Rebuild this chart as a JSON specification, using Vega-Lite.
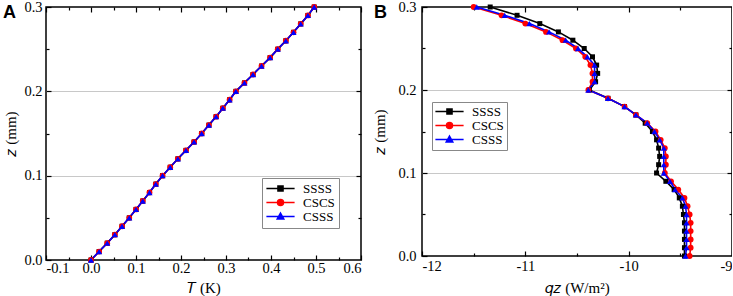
{
  "$schema": "https://vega.github.io/schema/vega-lite/v6.json",
  "background": "white",
  "padding": {"left": 2, "top": -2, "right": -2, "bottom": 1},
  "spacing": 9,
  "config": {
    "view": {"stroke": "black", "strokeWidth": 1.5},
    "font": "Liberation Serif",
    "axis": {"labelFont": "Liberation Serif", "labelFontSize": 14.5, "labelColor": "black", "titleFont": "Liberation Serif", "titleFontSize": 15, "titleFontWeight": "normal", "titleColor": "black", "domain": false, "tickColor": "black", "tickWidth": 1.2, "grid": false},
    "title": {"font": "Liberation Sans", "fontWeight": "bold", "fontSize": 18, "color": "black", "anchor": "start", "frame": "group", "baseline": "top", "offset": 4}
  },
  "resolve": {"scale": {"fill": "independent", "stroke": "independent", "shape": "independent"}, "legend": {"fill": "independent", "stroke": "independent", "shape": "independent"}},
  "datasets": {
    "A": [
      {"s":"SSSS","z":0.00,"T":0.000},{"s":"SSSS","z":0.01,"T":0.018},{"s":"SSSS","z":0.02,"T":0.036},{"s":"SSSS","z":0.03,"T":0.053},{"s":"SSSS","z":0.04,"T":0.069},{"s":"SSSS","z":0.05,"T":0.085},{"s":"SSSS","z":0.06,"T":0.100},{"s":"SSSS","z":0.07,"T":0.115},{"s":"SSSS","z":0.08,"T":0.130},{"s":"SSSS","z":0.09,"T":0.144},{"s":"SSSS","z":0.10,"T":0.159},{"s":"SSSS","z":0.11,"T":0.176},{"s":"SSSS","z":0.12,"T":0.193},{"s":"SSSS","z":0.13,"T":0.211},{"s":"SSSS","z":0.14,"T":0.229},{"s":"SSSS","z":0.15,"T":0.246},{"s":"SSSS","z":0.16,"T":0.262},{"s":"SSSS","z":0.17,"T":0.278},{"s":"SSSS","z":0.18,"T":0.293},{"s":"SSSS","z":0.19,"T":0.308},{"s":"SSSS","z":0.20,"T":0.322},{"s":"SSSS","z":0.21,"T":0.341},{"s":"SSSS","z":0.22,"T":0.360},{"s":"SSSS","z":0.23,"T":0.379},{"s":"SSSS","z":0.24,"T":0.398},{"s":"SSSS","z":0.25,"T":0.415},{"s":"SSSS","z":0.26,"T":0.433},{"s":"SSSS","z":0.27,"T":0.450},{"s":"SSSS","z":0.28,"T":0.466},{"s":"SSSS","z":0.29,"T":0.482},{"s":"SSSS","z":0.30,"T":0.496},
      {"s":"CSCS","z":0.00,"T":0.000},{"s":"CSCS","z":0.01,"T":0.018},{"s":"CSCS","z":0.02,"T":0.036},{"s":"CSCS","z":0.03,"T":0.053},{"s":"CSCS","z":0.04,"T":0.069},{"s":"CSCS","z":0.05,"T":0.085},{"s":"CSCS","z":0.06,"T":0.100},{"s":"CSCS","z":0.07,"T":0.115},{"s":"CSCS","z":0.08,"T":0.130},{"s":"CSCS","z":0.09,"T":0.144},{"s":"CSCS","z":0.10,"T":0.159},{"s":"CSCS","z":0.11,"T":0.176},{"s":"CSCS","z":0.12,"T":0.193},{"s":"CSCS","z":0.13,"T":0.211},{"s":"CSCS","z":0.14,"T":0.229},{"s":"CSCS","z":0.15,"T":0.246},{"s":"CSCS","z":0.16,"T":0.262},{"s":"CSCS","z":0.17,"T":0.278},{"s":"CSCS","z":0.18,"T":0.293},{"s":"CSCS","z":0.19,"T":0.308},{"s":"CSCS","z":0.20,"T":0.322},{"s":"CSCS","z":0.21,"T":0.341},{"s":"CSCS","z":0.22,"T":0.360},{"s":"CSCS","z":0.23,"T":0.379},{"s":"CSCS","z":0.24,"T":0.398},{"s":"CSCS","z":0.25,"T":0.415},{"s":"CSCS","z":0.26,"T":0.433},{"s":"CSCS","z":0.27,"T":0.450},{"s":"CSCS","z":0.28,"T":0.466},{"s":"CSCS","z":0.29,"T":0.482},{"s":"CSCS","z":0.30,"T":0.496},
      {"s":"CSSS","z":0.00,"T":0.000},{"s":"CSSS","z":0.01,"T":0.018},{"s":"CSSS","z":0.02,"T":0.036},{"s":"CSSS","z":0.03,"T":0.053},{"s":"CSSS","z":0.04,"T":0.069},{"s":"CSSS","z":0.05,"T":0.085},{"s":"CSSS","z":0.06,"T":0.100},{"s":"CSSS","z":0.07,"T":0.115},{"s":"CSSS","z":0.08,"T":0.130},{"s":"CSSS","z":0.09,"T":0.144},{"s":"CSSS","z":0.10,"T":0.159},{"s":"CSSS","z":0.11,"T":0.176},{"s":"CSSS","z":0.12,"T":0.193},{"s":"CSSS","z":0.13,"T":0.211},{"s":"CSSS","z":0.14,"T":0.229},{"s":"CSSS","z":0.15,"T":0.246},{"s":"CSSS","z":0.16,"T":0.262},{"s":"CSSS","z":0.17,"T":0.278},{"s":"CSSS","z":0.18,"T":0.293},{"s":"CSSS","z":0.19,"T":0.308},{"s":"CSSS","z":0.20,"T":0.322},{"s":"CSSS","z":0.21,"T":0.341},{"s":"CSSS","z":0.22,"T":0.360},{"s":"CSSS","z":0.23,"T":0.379},{"s":"CSSS","z":0.24,"T":0.398},{"s":"CSSS","z":0.25,"T":0.415},{"s":"CSSS","z":0.26,"T":0.433},{"s":"CSSS","z":0.27,"T":0.450},{"s":"CSSS","z":0.28,"T":0.466},{"s":"CSSS","z":0.29,"T":0.482},{"s":"CSSS","z":0.30,"T":0.496}
    ],
    "B": [
      {"s":"SSSS","z":0.30,"q":-11.34},{"s":"SSSS","z":0.29,"q":-11.08},{"s":"SSSS","z":0.28,"q":-10.86},{"s":"SSSS","z":0.27,"q":-10.68},{"s":"SSSS","z":0.26,"q":-10.54},{"s":"SSSS","z":0.25,"q":-10.43},{"s":"SSSS","z":0.24,"q":-10.35},{"s":"SSSS","z":0.23,"q":-10.31},{"s":"SSSS","z":0.22,"q":-10.30},{"s":"SSSS","z":0.21,"q":-10.32},{"s":"SSSS","z":0.20,"q":-10.38},{"s":"SSSS","z":0.19,"q":-10.20},{"s":"SSSS","z":0.18,"q":-10.04},{"s":"SSSS","z":0.17,"q":-9.93},{"s":"SSSS","z":0.16,"q":-9.84},{"s":"SSSS","z":0.15,"q":-9.77},{"s":"SSSS","z":0.14,"q":-9.73},{"s":"SSSS","z":0.13,"q":-9.71},{"s":"SSSS","z":0.12,"q":-9.70},{"s":"SSSS","z":0.11,"q":-9.71},{"s":"SSSS","z":0.10,"q":-9.73},{"s":"SSSS","z":0.09,"q":-9.64},{"s":"SSSS","z":0.08,"q":-9.56},{"s":"SSSS","z":0.07,"q":-9.51},{"s":"SSSS","z":0.06,"q":-9.48},{"s":"SSSS","z":0.05,"q":-9.47},{"s":"SSSS","z":0.04,"q":-9.46},{"s":"SSSS","z":0.03,"q":-9.46},{"s":"SSSS","z":0.02,"q":-9.46},{"s":"SSSS","z":0.01,"q":-9.46},{"s":"SSSS","z":0.00,"q":-9.46},
      {"s":"CSCS","z":0.30,"q":-11.50},{"s":"CSCS","z":0.29,"q":-11.23},{"s":"CSCS","z":0.28,"q":-11.00},{"s":"CSCS","z":0.27,"q":-10.80},{"s":"CSCS","z":0.26,"q":-10.64},{"s":"CSCS","z":0.25,"q":-10.51},{"s":"CSCS","z":0.24,"q":-10.42},{"s":"CSCS","z":0.23,"q":-10.37},{"s":"CSCS","z":0.22,"q":-10.35},{"s":"CSCS","z":0.21,"q":-10.35},{"s":"CSCS","z":0.20,"q":-10.39},{"s":"CSCS","z":0.19,"q":-10.20},{"s":"CSCS","z":0.18,"q":-10.04},{"s":"CSCS","z":0.17,"q":-9.93},{"s":"CSCS","z":0.16,"q":-9.82},{"s":"CSCS","z":0.15,"q":-9.74},{"s":"CSCS","z":0.14,"q":-9.69},{"s":"CSCS","z":0.13,"q":-9.65},{"s":"CSCS","z":0.12,"q":-9.64},{"s":"CSCS","z":0.11,"q":-9.64},{"s":"CSCS","z":0.10,"q":-9.65},{"s":"CSCS","z":0.09,"q":-9.59},{"s":"CSCS","z":0.08,"q":-9.52},{"s":"CSCS","z":0.07,"q":-9.46},{"s":"CSCS","z":0.06,"q":-9.43},{"s":"CSCS","z":0.05,"q":-9.41},{"s":"CSCS","z":0.04,"q":-9.40},{"s":"CSCS","z":0.03,"q":-9.40},{"s":"CSCS","z":0.02,"q":-9.40},{"s":"CSCS","z":0.01,"q":-9.40},{"s":"CSCS","z":0.00,"q":-9.41},
      {"s":"CSSS","z":0.30,"q":-11.47},{"s":"CSSS","z":0.29,"q":-11.20},{"s":"CSSS","z":0.28,"q":-10.96},{"s":"CSSS","z":0.27,"q":-10.77},{"s":"CSSS","z":0.26,"q":-10.61},{"s":"CSSS","z":0.25,"q":-10.49},{"s":"CSSS","z":0.24,"q":-10.40},{"s":"CSSS","z":0.23,"q":-10.33},{"s":"CSSS","z":0.22,"q":-10.33},{"s":"CSSS","z":0.21,"q":-10.33},{"s":"CSSS","z":0.20,"q":-10.39},{"s":"CSSS","z":0.19,"q":-10.20},{"s":"CSSS","z":0.18,"q":-10.04},{"s":"CSSS","z":0.17,"q":-9.93},{"s":"CSSS","z":0.16,"q":-9.82},{"s":"CSSS","z":0.15,"q":-9.75},{"s":"CSSS","z":0.14,"q":-9.70},{"s":"CSSS","z":0.13,"q":-9.66},{"s":"CSSS","z":0.12,"q":-9.66},{"s":"CSSS","z":0.11,"q":-9.66},{"s":"CSSS","z":0.10,"q":-9.66},{"s":"CSSS","z":0.09,"q":-9.60},{"s":"CSSS","z":0.08,"q":-9.55},{"s":"CSSS","z":0.07,"q":-9.48},{"s":"CSSS","z":0.06,"q":-9.45},{"s":"CSSS","z":0.05,"q":-9.44},{"s":"CSSS","z":0.04,"q":-9.44},{"s":"CSSS","z":0.03,"q":-9.44},{"s":"CSSS","z":0.02,"q":-9.44},{"s":"CSSS","z":0.01,"q":-9.44},{"s":"CSSS","z":0.00,"q":-9.45}
    ]
  },
  "hconcat": [
    {
      "width": 315,
      "height": 253,
      "title": {"text": "A", "dx": -43, "dy": 27},
      "data": {"name": "A"},
      "resolve": {"axis": {"x": "independent", "y": "independent"}},
      "layer": [
        {
          "transform": [{"filter": "datum.s === 'SSSS'"}],
          "mark": {"type": "line", "strokeWidth": 1.6, "color": "black"},
          "encoding": {
            "x": {"field": "T", "type": "quantitative", "scale": {"domain": [-0.1, 0.6], "nice": false, "zero": false},
              "axis": {"orient": "bottom", "title": "𝑇 (K)", "values": [-0.1, 0, 0.1, 0.2, 0.3, 0.4, 0.5, 0.6], "tickSize": -5, "labelPadding": 6, "labelExpr": "replace(format(datum.value, '.1f'), '−', '-')", "titlePadding": 6}},
            "y": {"field": "z", "type": "quantitative", "scale": {"domain": [0, 0.3], "nice": false, "zero": false},
              "axis": {"orient": "left", "title": "𝑧 (mm)", "values": [0, 0.1, 0.2, 0.3], "tickSize": -5, "labelPadding": 9, "labelExpr": "format(datum.value, '.1f')", "titlePadding": 5}},
            "order": {"field": "z", "type": "quantitative"}
          }
        },
        {
          "transform": [{"filter": "datum.s === 'CSCS'"}],
          "mark": {"type": "line", "strokeWidth": 1.6, "color": "red"},
          "encoding": {
            "x": {"field": "T", "type": "quantitative", "scale": {"domain": [-0.1, 0.6], "nice": false, "zero": false}, "axis": null},
            "y": {"field": "z", "type": "quantitative", "scale": {"domain": [0, 0.3], "nice": false, "zero": false}, "axis": null},
            "order": {"field": "z", "type": "quantitative"}
          }
        },
        {
          "transform": [{"filter": "datum.s === 'CSSS'"}],
          "mark": {"type": "line", "strokeWidth": 1.6, "color": "blue"},
          "encoding": {
            "x": {"field": "T", "type": "quantitative", "scale": {"domain": [-0.1, 0.6], "nice": false, "zero": false}, "axis": null},
            "y": {"field": "z", "type": "quantitative", "scale": {"domain": [0, 0.3], "nice": false, "zero": false}, "axis": null},
            "order": {"field": "z", "type": "quantitative"}
          }
        },
        {
          "transform": [{"filter": "datum.s === 'SSSS'"}],
          "mark": {"type": "point", "filled": true, "opacity": 1, "shape": "square", "size": 25, "color": "black"},
          "encoding": {
            "x": {"field": "T", "type": "quantitative", "scale": {"domain": [-0.1, 0.6], "nice": false, "zero": false},
              "axis": {"orient": "top", "labels": false, "title": null, "values": [-0.1, 0, 0.1, 0.2, 0.3, 0.4, 0.5, 0.6], "tickSize": -5}},
            "y": {"field": "z", "type": "quantitative", "scale": {"domain": [0, 0.3], "nice": false, "zero": false},
              "axis": {"orient": "right", "labels": false, "title": null, "values": [0.1, 0.2], "tickSize": -5, "grid": true, "gridColor": "#c8c8c8", "gridWidth": 1}}
          }
        },
        {
          "transform": [{"filter": "datum.s === 'CSCS'"}],
          "mark": {"type": "point", "filled": true, "opacity": 1, "shape": "circle", "size": 34, "color": "red"},
          "encoding": {
            "x": {"field": "T", "type": "quantitative", "scale": {"domain": [-0.1, 0.6], "nice": false, "zero": false}, "axis": null},
            "y": {"field": "z", "type": "quantitative", "scale": {"domain": [0, 0.3], "nice": false, "zero": false}, "axis": null}
          }
        },
        {
          "transform": [{"filter": "datum.s === 'CSSS'"}],
          "mark": {"type": "point", "filled": true, "opacity": 1, "shape": "triangle-up", "size": 38, "color": "blue"},
          "encoding": {
            "x": {"field": "T", "type": "quantitative", "scale": {"domain": [-0.1, 0.6], "nice": false, "zero": false}, "axis": null},
            "y": {"field": "z", "type": "quantitative", "scale": {"domain": [0, 0.3], "nice": false, "zero": false}, "axis": null}
          }
        },
        {
          "mark": {"type": "point", "opacity": 0},
          "encoding": {
            "x": {"field": "T", "type": "quantitative", "scale": {"domain": [-0.1, 0.6], "nice": false, "zero": false},
              "axis": {"orient": "bottom", "labels": false, "title": null, "values": [-0.05, 0.05, 0.15, 0.25, 0.35, 0.45, 0.55], "tickSize": -3}},
            "y": {"field": "z", "type": "quantitative", "scale": {"domain": [0, 0.3], "nice": false, "zero": false},
              "axis": {"orient": "left", "labels": false, "title": null, "values": [0.05, 0.15, 0.25], "tickSize": -3}}
          }
        },
        {
          "mark": {"type": "point", "opacity": 0},
          "encoding": {
            "x": {"field": "T", "type": "quantitative", "scale": {"domain": [-0.1, 0.6], "nice": false, "zero": false},
              "axis": {"orient": "top", "labels": false, "title": null, "values": [-0.05, 0.05, 0.15, 0.25, 0.35, 0.45, 0.55], "tickSize": -3}},
            "y": {"field": "z", "type": "quantitative", "scale": {"domain": [0, 0.3], "nice": false, "zero": false},
              "axis": {"orient": "right", "labels": false, "title": null, "values": [0.05, 0.15, 0.25], "tickSize": -3}}
          }
        },
        {
          "transform": [{"filter": "datum.z < 0"}],
          "mark": {"type": "point", "filled": true, "opacity": 1, "strokeWidth": 1.5},
          "encoding": {
            "x": {"field": "T", "type": "quantitative", "scale": {"domain": [-0.1, 0.6], "nice": false, "zero": false}, "axis": null},
            "y": {"field": "z", "type": "quantitative", "scale": {"domain": [0, 0.3], "nice": false, "zero": false}, "axis": null},
            "fill": {"field": "s", "type": "nominal", "scale": {"domain": ["SSSS", "CSCS", "CSSS"], "range": ["black", "red", "blue"]},
              "legend": {"title": null, "orient": "none", "legendX": 216, "legendY": 171, "labelFont": "Liberation Serif", "labelFontSize": 13, "labelColor": "black", "strokeColor": "#888888", "fillColor": "white", "padding": 4, "rowPadding": 0, "symbolSize": 36, "symbolStrokeWidth": 1.5, "symbolOffset": 8, "labelOffset": 16}},
            "stroke": {"field": "s", "type": "nominal", "scale": {"domain": ["SSSS", "CSCS", "CSSS"], "range": ["black", "red", "blue"]},
              "legend": {"title": null, "orient": "none", "legendX": 216, "legendY": 171, "labelFont": "Liberation Serif", "labelFontSize": 13, "labelColor": "black", "strokeColor": "#888888", "fillColor": "white", "padding": 4, "rowPadding": 0, "symbolSize": 36, "symbolStrokeWidth": 1.5, "symbolOffset": 8, "labelOffset": 16}},
            "shape": {"field": "s", "type": "nominal", "scale": {"domain": ["SSSS", "CSCS", "CSSS"], "range": ["M-4.7,0H4.7M-0.85,-0.85H0.85V0.85H-0.85Z", "M-4.7,0H4.7M-1,0A1,1,0,1,1,1,0A1,1,0,1,1,-1,0Z", "M-4.7,0H4.7M0,-1.15L1.1,0.85H-1.1Z"]},
              "legend": {"title": null, "orient": "none", "legendX": 216, "legendY": 171, "labelFont": "Liberation Serif", "labelFontSize": 13, "labelColor": "black", "strokeColor": "#888888", "fillColor": "white", "padding": 4, "rowPadding": 0, "symbolSize": 36, "symbolStrokeWidth": 1.5, "symbolOffset": 8, "labelOffset": 16}}
          }
        }
      ]
    },
    {
      "width": 310,
      "height": 249,
      "title": {"text": "B", "dx": -48, "dy": 27},
      "data": {"name": "B"},
      "resolve": {"axis": {"x": "independent", "y": "independent"}},
      "layer": [
        {
          "transform": [{"filter": "datum.s === 'SSSS'"}],
          "mark": {"type": "line", "strokeWidth": 1.6, "color": "black"},
          "encoding": {
            "x": {"field": "q", "type": "quantitative", "scale": {"domain": [-12, -9], "nice": false, "zero": false},
              "axis": {"orient": "bottom", "title": "𝑞𝑧 (W/m²)", "values": [-12, -11, -10, -9], "tickSize": -5, "labelPadding": 8, "labelExpr": "replace(format(datum.value, 'd'), '−', '-')", "titlePadding": 8}},
            "y": {"field": "z", "type": "quantitative", "scale": {"domain": [0, 0.3], "nice": false, "zero": false},
              "axis": {"orient": "left", "title": "𝑧 (mm)", "values": [0, 0.1, 0.2, 0.3], "tickSize": -5, "labelPadding": 11, "labelExpr": "format(datum.value, '.1f')", "titlePadding": 10}},
            "order": {"field": "z", "type": "quantitative"}
          }
        },
        {
          "transform": [{"filter": "datum.s === 'CSCS'"}],
          "mark": {"type": "line", "strokeWidth": 1.6, "color": "red"},
          "encoding": {
            "x": {"field": "q", "type": "quantitative", "scale": {"domain": [-12, -9], "nice": false, "zero": false}, "axis": null},
            "y": {"field": "z", "type": "quantitative", "scale": {"domain": [0, 0.3], "nice": false, "zero": false}, "axis": null},
            "order": {"field": "z", "type": "quantitative"}
          }
        },
        {
          "transform": [{"filter": "datum.s === 'CSSS'"}],
          "mark": {"type": "line", "strokeWidth": 1.6, "color": "blue"},
          "encoding": {
            "x": {"field": "q", "type": "quantitative", "scale": {"domain": [-12, -9], "nice": false, "zero": false}, "axis": null},
            "y": {"field": "z", "type": "quantitative", "scale": {"domain": [0, 0.3], "nice": false, "zero": false}, "axis": null},
            "order": {"field": "z", "type": "quantitative"}
          }
        },
        {
          "transform": [{"filter": "datum.s === 'SSSS'"}],
          "mark": {"type": "point", "filled": true, "opacity": 1, "shape": "square", "size": 25, "color": "black"},
          "encoding": {
            "x": {"field": "q", "type": "quantitative", "scale": {"domain": [-12, -9], "nice": false, "zero": false},
              "axis": {"orient": "top", "labels": false, "title": null, "values": [-12, -11, -10, -9], "tickSize": -5}},
            "y": {"field": "z", "type": "quantitative", "scale": {"domain": [0, 0.3], "nice": false, "zero": false},
              "axis": {"orient": "right", "labels": false, "title": null, "values": [0.1, 0.2], "tickSize": -5, "grid": true, "gridColor": "#c8c8c8", "gridWidth": 1}}
          }
        },
        {
          "transform": [{"filter": "datum.s === 'CSCS'"}],
          "mark": {"type": "point", "filled": true, "opacity": 1, "shape": "circle", "size": 34, "color": "red"},
          "encoding": {
            "x": {"field": "q", "type": "quantitative", "scale": {"domain": [-12, -9], "nice": false, "zero": false}, "axis": null},
            "y": {"field": "z", "type": "quantitative", "scale": {"domain": [0, 0.3], "nice": false, "zero": false}, "axis": null}
          }
        },
        {
          "transform": [{"filter": "datum.s === 'CSSS'"}],
          "mark": {"type": "point", "filled": true, "opacity": 1, "shape": "triangle-up", "size": 38, "color": "blue"},
          "encoding": {
            "x": {"field": "q", "type": "quantitative", "scale": {"domain": [-12, -9], "nice": false, "zero": false}, "axis": null},
            "y": {"field": "z", "type": "quantitative", "scale": {"domain": [0, 0.3], "nice": false, "zero": false}, "axis": null}
          }
        },
        {
          "mark": {"type": "point", "opacity": 0},
          "encoding": {
            "x": {"field": "q", "type": "quantitative", "scale": {"domain": [-12, -9], "nice": false, "zero": false},
              "axis": {"orient": "bottom", "labels": false, "title": null, "values": [-11.5, -10.5, -9.5], "tickSize": -3}},
            "y": {"field": "z", "type": "quantitative", "scale": {"domain": [0, 0.3], "nice": false, "zero": false},
              "axis": {"orient": "left", "labels": false, "title": null, "values": [0.05, 0.15, 0.25], "tickSize": -3}}
          }
        },
        {
          "mark": {"type": "point", "opacity": 0},
          "encoding": {
            "x": {"field": "q", "type": "quantitative", "scale": {"domain": [-12, -9], "nice": false, "zero": false},
              "axis": {"orient": "top", "labels": false, "title": null, "values": [-11.5, -10.5, -9.5], "tickSize": -3}},
            "y": {"field": "z", "type": "quantitative", "scale": {"domain": [0, 0.3], "nice": false, "zero": false},
              "axis": {"orient": "right", "labels": false, "title": null, "values": [0.05, 0.15, 0.25], "tickSize": -3}}
          }
        },
        {
          "transform": [{"filter": "datum.z < 0"}],
          "mark": {"type": "point", "filled": true, "opacity": 1, "strokeWidth": 1.5},
          "encoding": {
            "x": {"field": "q", "type": "quantitative", "scale": {"domain": [-12, -9], "nice": false, "zero": false}, "axis": null},
            "y": {"field": "z", "type": "quantitative", "scale": {"domain": [0, 0.3], "nice": false, "zero": false}, "axis": null},
            "fill": {"field": "s", "type": "nominal", "scale": {"domain": ["SSSS", "CSCS", "CSSS"], "range": ["black", "red", "blue"]},
              "legend": {"title": null, "orient": "none", "legendX": 10, "legendY": 95, "labelFont": "Liberation Serif", "labelFontSize": 13, "labelColor": "black", "strokeColor": "#888888", "fillColor": "white", "padding": 3, "rowPadding": 0, "symbolSize": 36, "symbolStrokeWidth": 1.5, "symbolOffset": 8, "labelOffset": 16}},
            "stroke": {"field": "s", "type": "nominal", "scale": {"domain": ["SSSS", "CSCS", "CSSS"], "range": ["black", "red", "blue"]},
              "legend": {"title": null, "orient": "none", "legendX": 10, "legendY": 95, "labelFont": "Liberation Serif", "labelFontSize": 13, "labelColor": "black", "strokeColor": "#888888", "fillColor": "white", "padding": 3, "rowPadding": 0, "symbolSize": 36, "symbolStrokeWidth": 1.5, "symbolOffset": 8, "labelOffset": 16}},
            "shape": {"field": "s", "type": "nominal", "scale": {"domain": ["SSSS", "CSCS", "CSSS"], "range": ["M-4.7,0H4.7M-0.85,-0.85H0.85V0.85H-0.85Z", "M-4.7,0H4.7M-1,0A1,1,0,1,1,1,0A1,1,0,1,1,-1,0Z", "M-4.7,0H4.7M0,-1.15L1.1,0.85H-1.1Z"]},
              "legend": {"title": null, "orient": "none", "legendX": 10, "legendY": 95, "labelFont": "Liberation Serif", "labelFontSize": 13, "labelColor": "black", "strokeColor": "#888888", "fillColor": "white", "padding": 3, "rowPadding": 0, "symbolSize": 36, "symbolStrokeWidth": 1.5, "symbolOffset": 8, "labelOffset": 16}}
          }
        }
      ]
    }
  ]
}
